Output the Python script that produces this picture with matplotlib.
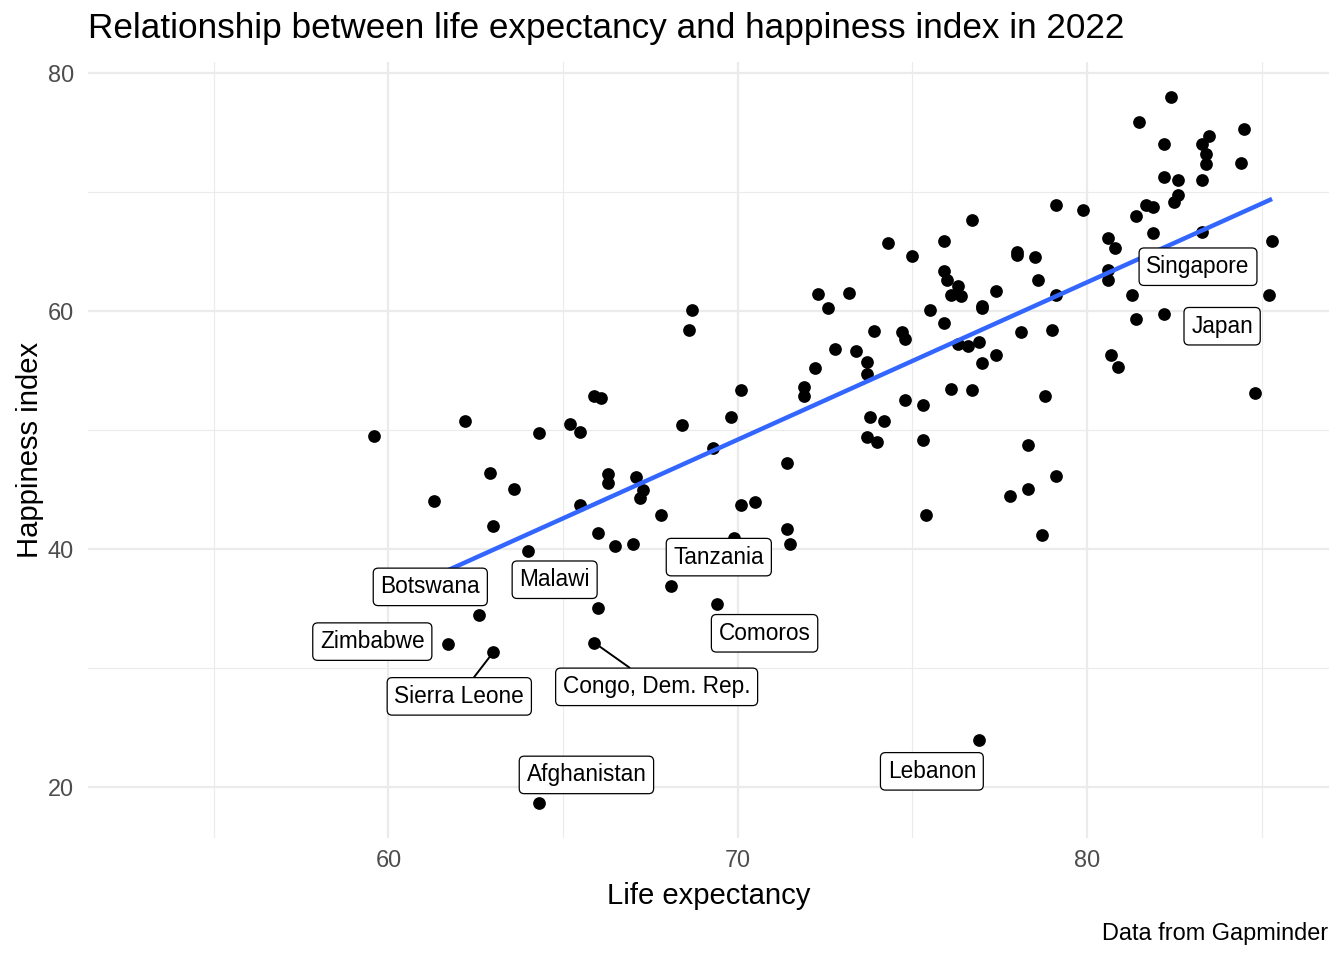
import numpy as np
import matplotlib
matplotlib.use("Agg")
import matplotlib.pyplot as plt
from matplotlib.ticker import FixedLocator

plt.rcParams['font.family'] = ['Liberation Sans', 'DejaVu Sans']

# Datos (esperanza de vida, índice de felicidad) - países sin etiqueta
life_exp = [
    59.6, 61.3, 62.2, 62.9, 63.0, 63.6, 64.0, 64.3, 65.2, 65.5, 65.5, 65.9, 66.1,
    66.0, 66.3, 66.3, 66.5, 67.1, 67.3, 67.2, 67.0, 67.8, 68.4, 68.6, 68.7, 69.3,
    69.8, 69.9, 70.1, 70.1, 70.5, 71.4, 71.4, 71.5, 71.9, 71.9, 72.2, 72.3, 72.6,
    72.8, 73.2, 73.4, 73.7, 73.7, 73.7, 73.8, 73.9, 74.0, 74.2, 74.3, 74.7, 74.8,
    74.8, 75.0, 75.3, 75.3, 75.4, 75.5, 75.9, 75.9, 75.9, 76.0, 76.1, 76.1, 76.3,
    76.3, 76.4, 76.6, 76.7, 76.7, 76.9, 77.0, 77.0, 77.0, 77.4, 77.4, 77.8, 78.0,
    78.0, 78.1, 78.3, 78.3, 78.5, 78.6, 78.7, 78.8, 79.0, 79.1, 79.1, 79.1, 79.9,
    80.6, 80.8, 80.6, 80.6, 81.3, 80.7, 80.9, 81.4, 81.4, 81.5, 81.7, 81.9, 81.9,
    82.2, 82.2, 82.2, 82.4, 82.5, 82.6, 82.6, 83.3, 83.3, 83.3, 83.4, 83.4, 83.5,
    84.4, 84.5, 84.8,
]
happiness = [
    49.5, 44.0, 50.7, 46.4, 41.9, 45.0, 39.8, 49.7, 50.5, 49.8, 43.7, 52.8, 52.7,
    41.3, 46.3, 45.5, 40.2, 46.0, 44.9, 44.3, 40.4, 42.8, 50.4, 58.4, 60.1, 48.5,
    51.1, 40.9, 53.3, 43.7, 43.9, 47.2, 41.7, 40.4, 53.6, 52.8, 55.2, 61.4, 60.2,
    56.8, 61.5, 56.6, 55.7, 54.7, 49.4, 51.1, 58.3, 49.0, 50.7, 65.7, 58.2, 57.6,
    52.5, 64.6, 52.1, 49.1, 42.8, 60.1, 65.9, 63.3, 59.0, 62.6, 61.3, 53.4, 62.1,
    57.2, 61.2, 57.0, 67.6, 53.3, 57.4, 60.4, 60.2, 55.6, 61.7, 56.3, 44.4, 64.9,
    64.7, 58.2, 48.7, 45.0, 64.5, 62.6, 41.2, 52.8, 58.4, 68.9, 61.3, 46.1, 68.5,
    66.1, 65.3, 63.4, 62.6, 61.3, 56.3, 55.3, 59.3, 68.0, 75.9, 68.9, 68.7, 66.5,
    74.0, 71.2, 59.7, 78.0, 69.1, 69.7, 71.0, 74.0, 71.0, 66.6, 73.2, 72.3, 74.7,
    72.4, 75.3, 53.1,
]

# Países etiquetados
label_names = ["Afghanistan", "Lebanon", "Zimbabwe", "Sierra Leone",
               "Congo, Dem. Rep.", "Botswana", "Malawi", "Tanzania", "Comoros",
               "Japan", "Singapore"]
label_life = [64.3, 76.9, 61.7, 63.0, 65.9, 62.6, 66.0, 68.1, 69.4, 85.2, 85.3]
label_happy = [18.6, 23.9, 32.0, 31.3, 32.1, 34.4, 35.0, 36.9, 35.4, 61.3, 65.9]

# Posición de las cajas (como las dejó ggrepel)
label_box_x = [65.67, 75.56, 59.54, 62.03, 67.68, 61.2, 64.76, 69.46, 70.77, 83.87, 83.18]
label_box_y = [21.0, 21.3, 32.2, 27.6, 28.4, 36.8, 37.4, 39.3, 32.9, 58.7, 63.7]
with_segment = ["Sierra Leone", "Congo, Dem. Rep."]

all_x = np.array(life_exp + label_life)
all_y = np.array(happiness + label_happy)

fig = plt.figure(figsize=(13.44, 9.6), dpi=100)
ax = fig.add_axes([88 / 1344, 1 - 838 / 960, (1329 - 88) / 1344, (838 - 62) / 960])

ax.scatter(all_x, all_y, s=84, color="black", linewidths=0, zorder=3)

# Recta de regresión lineal
m, b = np.polyfit(all_x, all_y, 1)
xs = np.array([all_x.min(), all_x.max()])
ax.plot(xs, m * xs + b, color="#3366FF", lw=3.2, zorder=4, solid_capstyle="butt")

for i, name in enumerate(label_names):
    props = None
    if name in with_segment:
        props = dict(arrowstyle="-", color="black", lw=1.4, shrinkA=0, shrinkB=0)
    ax.annotate(name, xy=(label_life[i], label_happy[i]),
                xytext=(label_box_x[i], label_box_y[i]),
                ha="center", va="center", fontsize=16.3, color="black",
                bbox=dict(boxstyle="round,pad=0.32,rounding_size=0.22",
                          fc="white", ec="black", lw=0.9),
                arrowprops=props, zorder=6)

ax.set_xlim(51.4, 86.93)
ax.set_ylim(15.7, 80.9)
ax.xaxis.set_major_locator(FixedLocator([60, 70, 80]))
ax.xaxis.set_minor_locator(FixedLocator([55, 65, 75, 85]))
ax.yaxis.set_major_locator(FixedLocator([20, 40, 60, 80]))
ax.yaxis.set_minor_locator(FixedLocator([30, 50, 70]))
ax.grid(which="major", color="#EBEBEB", lw=1.6, zorder=0)
ax.grid(which="minor", color="#EBEBEB", lw=0.8, zorder=0)
ax.set_axisbelow(True)
for sp in ax.spines.values():
    sp.set_visible(False)
ax.tick_params(which="both", length=0, labelsize=16.9, labelcolor="#4D4D4D")
ax.tick_params(axis="x", pad=8)
ax.tick_params(axis="y", pad=10)

fig.text(88 / 1344, 1 - 38 / 960, "Relationship between life expectancy and happiness index in 2022",
         fontsize=25.3, ha="left", va="baseline")
fig.text(708.5 / 1344, 1 - 904 / 960, "Life expectancy", fontsize=21.1, ha="center", va="baseline")
fig.text(30 / 1344, 1 - 450 / 960, "Happiness index", fontsize=21.1, rotation=90,
         ha="center", va="center")
fig.text(1328 / 1344, 1 - 940 / 960, "Data from Gapminder", fontsize=16.9, ha="right", va="baseline")

fig.savefig("out.png", dpi=100)
